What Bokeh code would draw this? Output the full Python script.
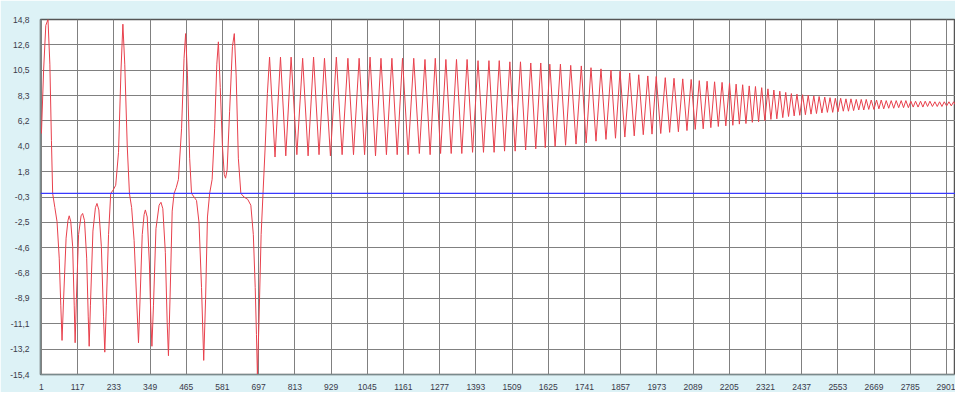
import numpy as np
from bokeh.plotting import figure
from bokeh.models import FixedTicker, Span, Range1d
from bokeh.embed import file_html
from bokeh.resources import INLINE

# ---- tick labels -------------------------------------------------------
x_tick_labels = ["1", "117", "233", "349", "465", "581", "697", "813", "929",
                 "1045", "1161", "1277", "1393", "1509", "1625", "1741", "1857",
                 "1973", "2089", "2205", "2321", "2437", "2553", "2669", "2785",
                 "2901"]
y_tick_labels = ["-15,4", "-13,2", "-11,1", "-8,9", "-6,8", "-4,6", "-2,5",
                 "-0,3", "1,8", "4,0", "6,2", "8,3", "10,5", "12,6", "14,8"]

# ---- signal: irregular start (sample index, value) ---------------------
chaos_x = [1, 8, 15, 22, 28, 33, 37, 44, 51, 58, 63, 67, 72, 80, 86, 90, 95, 101,
           106, 109, 113, 120, 128, 133, 139, 146, 151, 154, 158, 166, 174, 179,
           185, 193, 200, 204, 209, 216, 223, 231, 239, 248, 256, 262, 268, 276,
           283, 290, 298, 306, 312, 317, 324, 330, 334, 340, 347, 352, 355, 360,
           368, 378, 384, 390, 398, 404, 408, 413, 420, 426, 433, 440, 450, 458,
           463, 469, 476, 482, 490, 498, 506, 514, 521, 527, 533, 540, 548, 556,
           563, 568, 574, 581, 587, 591, 596, 604, 613, 619, 625, 632, 640, 650,
           662, 672, 680, 686, 690, 693, 698, 705, 711, 718, 725]
chaos_y = [5.1, 10.5, 14.3, 14.8, 11.0, 4.5, 0.0, -1.2, -2.4, -5.5, -9.5, -12.5,
           -9.0, -3.8, -2.3, -1.9, -2.4, -4.5, -9.5, -12.7, -9.0, -3.5, -1.9, -1.7,
           -2.3, -5.5, -10.5, -13.0, -9.5, -3.2, -1.2, -0.85, -1.4, -4.5, -10.5,
           -13.5, -9.5, -3.5, 0.0, 0.3, 0.7, 3.5, 10.5, 14.4, 11.0, 4.0, 0.0, -1.2,
           -4.0, -9.0, -12.7, -9.0, -3.5, -1.8, -1.4, -2.0, -6.0, -11.0, -13.0,
           -9.5, -3.0, -1.0, -0.75, -1.3, -5.0, -11.0, -13.8, -9.0, -1.5, 0.0, 0.5,
           1.2, 5.5, 11.5, 13.6, 10.0, 3.0, 0.0, -0.3, -0.6, -2.5, -8.0, -14.2,
           -9.0, -2.0, 0.0, 1.2, 5.5, 11.0, 12.9, 9.0, 4.0, 1.6, 1.3, 2.0, 7.0,
           12.5, 13.6, 10.0, 3.0, 0.0, -0.3, -0.5, -1.0, -3.5, -8.0, -12.0, -15.4,
           -11.0, -3.5, 0.0, 4.0, 8.5]

# ---- signal: regular oscillation (peak positions, peak and trough values)
osc_peak_x = [732, 767, 801, 838, 873, 908, 946, 983, 1019, 1054, 1089, 1124,
              1158, 1194, 1230, 1263, 1297, 1331, 1365, 1400, 1435, 1468, 1502,
              1536, 1569, 1601, 1630, 1664, 1697, 1731, 1762, 1794, 1826, 1855,
              1886, 1915, 1944, 1971, 2000, 2028, 2056, 2083, 2109, 2134, 2158,
              2182, 2206, 2227, 2248, 2269, 2289, 2309, 2329, 2348, 2367, 2386,
              2404, 2422, 2440, 2458, 2476, 2493, 2511, 2528, 2545, 2562, 2579,
              2595, 2612, 2628, 2644, 2660, 2677, 2692, 2708, 2724, 2740, 2756,
              2771, 2787, 2802, 2818, 2833, 2848, 2864, 2879, 2894, 2909, 2924,
              2940]
osc_peak_y = [11.6, 11.6, 11.6, 11.5, 11.6, 11.5, 11.6, 11.5, 11.5, 11.6, 11.5,
              11.5, 11.5, 11.5, 11.4, 11.5, 11.4, 11.4, 11.4, 11.3, 11.3, 11.3,
              11.2, 11.2, 11.1, 11.1, 11.0, 11.0, 10.9, 10.85, 10.7, 10.6, 10.5,
              10.4, 10.25, 10.1, 10.0, 9.95, 9.85, 9.8, 9.75, 9.7, 9.6, 9.55, 9.5,
              9.45, 9.4, 9.3, 9.25, 9.15, 9.1, 9.0, 8.9, 8.8, 8.7, 8.6, 8.5, 8.45,
              8.4, 8.35, 8.3, 8.25, 8.2, 8.15, 8.1, 8.1, 8.05, 8.05, 8.0, 8.0, 8.0,
              7.95, 7.95, 7.95, 7.9, 7.9, 7.9, 7.9, 7.9, 7.85, 7.85, 7.85, 7.85,
              7.85, 7.8, 7.8, 7.8, 7.8, 7.8, 7.8]
osc_trough_y = [3.1, 3.2, 3.3, 3.2, 3.3, 3.2, 3.3, 3.3, 3.3, 3.2, 3.3, 3.3, 3.3,
                3.4, 3.3, 3.4, 3.4, 3.4, 3.5, 3.5, 3.5, 3.6, 3.6, 3.7, 3.8, 3.9,
                4.0, 4.1, 4.2, 4.3, 4.45, 4.6, 4.7, 4.8, 4.9, 5.0, 5.05, 5.1, 5.2,
                5.25, 5.35, 5.45, 5.5, 5.6, 5.7, 5.75, 5.8, 5.9, 5.95, 6.05, 6.1,
                6.2, 6.3, 6.35, 6.45, 6.55, 6.6, 6.65, 6.7, 6.75, 6.8, 6.85, 6.9,
                6.9, 6.95, 7.0, 7.0, 7.05, 7.1, 7.1, 7.15, 7.15, 7.2, 7.2, 7.25,
                7.25, 7.3, 7.3, 7.3, 7.35, 7.35, 7.35, 7.4, 7.4, 7.4, 7.4, 7.45,
                7.45, 7.45, 7.45]

# ---- assemble the line -------------------------------------------------
xs = list(chaos_x)
ys = list(chaos_y)
n = len(osc_peak_x)
for i in range(n):
    xs.append(osc_peak_x[i])
    ys.append(osc_peak_y[i])
    if i + 1 < n:
        tx = (osc_peak_x[i] + osc_peak_x[i + 1]) / 2
    else:
        tx = osc_peak_x[i] + (osc_peak_x[i] - osc_peak_x[i - 1]) / 2
    xs.append(tx)
    ys.append(osc_trough_y[i])

x_ticks = [int(t) for t in x_tick_labels]
y_ticks = [round(v, 6) for v in np.linspace(-15.4, 14.8, len(y_tick_labels))]

p = figure(width=955, height=392, output_backend="svg", toolbar_location=None,
           x_range=Range1d(-2, 2930), y_range=Range1d(-15.4, 14.8),
           min_border_left=40, min_border_right=0, min_border_top=19,
           min_border_bottom=13)

p.border_fill_color = "#ddf2f6"
p.background_fill_color = "white"
p.outline_line_color = "#555555"
p.outline_line_width = 1.5

for ax in (p.xaxis[0], p.yaxis[0]):
    ax.axis_line_color = "#7a8a8c"
    ax.major_tick_line_color = None
    ax.minor_tick_line_color = None
    ax.major_label_text_font = "Liberation Sans"
    ax.major_label_text_font_size = "8.5px"
    ax.major_label_text_color = "#3a3a4a"

p.xaxis[0].ticker = FixedTicker(ticks=x_ticks)
p.xaxis[0].major_label_overrides = {t: l for t, l in zip(x_ticks, x_tick_labels)}
p.xaxis[0].major_label_standoff = 3
p.yaxis[0].ticker = FixedTicker(ticks=y_ticks)
p.yaxis[0].major_label_overrides = {t: l for t, l in zip(y_ticks, y_tick_labels)}
p.yaxis[0].major_label_standoff = 5

p.xgrid.ticker = FixedTicker(ticks=x_ticks)
p.ygrid.ticker = FixedTicker(ticks=y_ticks)
for g in (p.xgrid[0], p.ygrid[0]):
    g.grid_line_color = "#808080"
    g.grid_line_width = 1

p.line(xs, ys, line_color="#e8404c", line_width=1)

p.add_layout(Span(location=0, dimension="width", line_color="#3a3aff",
                  line_width=1.3, level="overlay"))

open("out.html", "w").write(file_html(p, INLINE))
